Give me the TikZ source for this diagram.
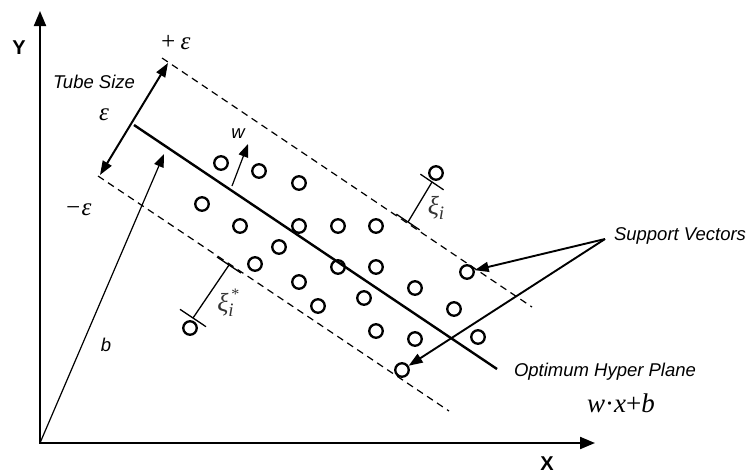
\documentclass[tikz,border=0pt]{standalone}
\usepackage{fontspec}
\setsansfont{Liberation Sans}
\newfontfamily\lserif{Liberation Serif}
\usetikzlibrary{arrows.meta,calc}
\begin{document}
\begin{tikzpicture}[x=1pt,y=-1pt,
  lab/.style={font=\sffamily\itshape\fontsize{18.5}{20}\selectfont, inner sep=0},
  axlab/.style={font=\sffamily\bfseries\fontsize{20}{22}\selectfont, inner sep=0},
  gk/.style={font=\lserif\itshape\fontsize{25}{26}\selectfont, inner sep=0},
  xilab/.style={font=\lserif\itshape\fontsize{26}{28}\selectfont, inner sep=0, text=black!80},
  svpt/.style={circle, draw, line width=2.3pt, minimum size=13.5pt, inner sep=0},
  dashln/.style={line width=1.2pt, dash pattern=on 7pt off 5pt},
  thinarrow/.style={line width=1.2pt, -{Triangle[length=13pt,width=10pt]}},
  boldarrow/.style={line width=1.9pt, -{Triangle[length=14pt,width=10pt]}},
  tick/.style={line width=1.3pt},
]
\useasboundingbox (0,0) rectangle (749,474);
% axes
\coordinate (O) at (40,443);
\coordinate (Ytip) at (40,11);
\coordinate (Xtip) at (595,443);
\draw[line width=2.1pt, {Triangle[length=15pt,width=12pt]}-{Triangle[length=15pt,width=12pt]}] (Ytip) -- (O) -- (Xtip);
\node[axlab] (ylab) at (19,48) {Y};
\node[axlab] (xlab) at (547,464) {X};
% hyperplane and margins
\coordinate (hpA) at (134,125);
\coordinate (hpB) at (497,369);
\draw[line width=2.4pt] (hpA) -- (hpB);
\coordinate (upA) at (162,58);
\coordinate (upB) at (532,307);
\draw[dashln] (upA) -- (upB);
\coordinate (loA) at (98,176);
\coordinate (loB) at (449,411);
\draw[dashln] (loA) -- (loB);
% tube size arrow
\coordinate (tubeTop) at (168,63);
\coordinate (tubeBot) at (100,175);
\draw[line width=2pt, {Triangle[length=14pt,width=10pt]}-{Triangle[length=14pt,width=10pt]}] (tubeBot) -- (tubeTop);
% w and b arrows
\coordinate (wS) at (232,186);
\coordinate (wT) at (248,144);
\draw[thinarrow] (wS) -- (wT);
\coordinate (bT) at (164,154);
\draw[thinarrow] (O) -- (bT);
% labels
\node[gk] (pe) at (175,43) {+\,ε};
\node[lab] (tube) at (94,82) {Tube Size};
\node[gk] (eps) at (104,115) {ε};
\node[gk] (me) at (78,210) {−ε};
\node[lab] (wlab) at (238,134) {w};
\node[lab] (blab) at (106,345) {b};
% points
\node[svpt] (c1) at (221,163) {};
\node[svpt] (c2) at (259,171) {};
\node[svpt] (c3) at (299,183) {};
\node[svpt] (c4) at (436,173) {};
\node[svpt] (c5) at (202,204) {};
\node[svpt] (c6) at (240,226) {};
\node[svpt] (c7) at (299,226) {};
\node[svpt] (c8) at (338,226) {};
\node[svpt] (c9) at (376,226) {};
\node[svpt] (c10) at (279,247) {};
\node[svpt] (c11) at (255,264) {};
\node[svpt] (c12) at (338,267) {};
\node[svpt] (c13) at (376,267) {};
\node[svpt] (c14) at (467,272) {};
\node[svpt] (c15) at (299,282) {};
\node[svpt] (c16) at (415,288) {};
\node[svpt] (c17) at (364,298) {};
\node[svpt] (c18) at (318,306) {};
\node[svpt] (c19) at (454,309) {};
\node[svpt] (c20) at (190,328) {};
\node[svpt] (c21) at (376,331) {};
\node[svpt] (c22) at (415,339) {};
\node[svpt] (c23) at (478,337) {};
\node[svpt] (c24) at (402,370) {};
% slack xi_i
\coordinate (x1a) at (432,182);
\coordinate (x1b) at (408,222);
\draw[tick] ($(x1a)+(-11.6,-7.8)$) -- ($(x1a)+(11.6,7.8)$);
\draw[tick] ($(x1b)+(-11.6,-7.8)$) -- ($(x1b)+(11.6,7.8)$);
\draw[tick] (x1a) -- (x1b);
\node[xilab] (xi1) at (436,208) {ξ\raisebox{-5pt}{\fontsize{19}{20}\selectfont i}};
% slack xi_i^*
\coordinate (x2a) at (193,318);
\coordinate (x2b) at (229,265);
\draw[tick] ($(x2a)+(-13,-8.7)$) -- ($(x2a)+(13,8.7)$);
\draw[tick] ($(x2b)+(-12,-8)$) -- ($(x2b)+(12,8)$);
\draw[tick] (x2a) -- (x2b);
\node[xilab] (xi2) at (228,303) {ξ\raisebox{-5pt}{\fontsize{19}{20}\selectfont i}\hspace{-3pt}\raisebox{12pt}{\fontsize{16}{18}\selectfont *}};
% support vectors
\node[lab] (svlab) at (680,236) {Support Vectors};
\coordinate (svS) at (605,239);
\draw[boldarrow] (svS) -- (c14);
\draw[boldarrow] (svS) -- (c24);
% hyperplane label
\node[lab] (ohp) at (605,372) {Optimum Hyper Plane};
\node[font=\lserif\fontsize{27}{28}\selectfont, inner sep=0] (eq) at (621,403) {\textit{w}·\textit{x}+\textit{b}};
\end{tikzpicture}
\end{document}
